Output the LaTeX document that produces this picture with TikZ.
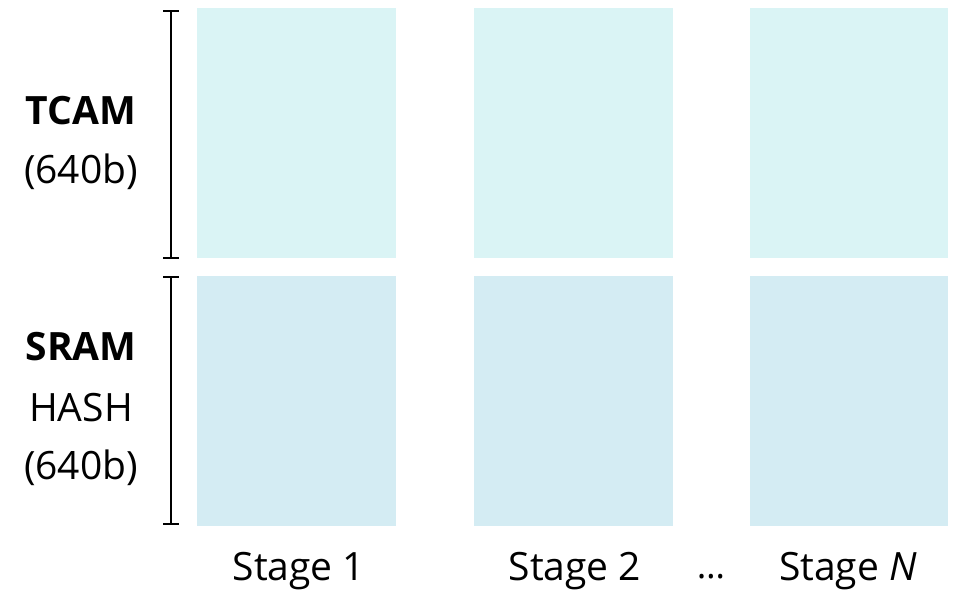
\documentclass[tikz,border=0pt]{standalone}
\usepackage{fontspec}
\setmainfont{Open Sans}
\begin{document}
\begin{tikzpicture}[x=1pt,y=-1pt,
  tcambox/.style={fill=tcamc, draw=none},
  srambox/.style={fill=sramc, draw=none},
  lbl/.style={font=\fontsize{39}{42}\selectfont, inner sep=0pt, anchor=center},
  brk/.style={line width=2.2pt, black}]
\definecolor{tcamc}{RGB}{218,244,245}
\definecolor{sramc}{RGB}{212,236,243}
\useasboundingbox (0,0) rectangle (956,596);
% boxes
\fill[tcambox] (197,8) rectangle (396,258);
\fill[tcambox] (474,8) rectangle (673,258);
\fill[tcambox] (750,8) rectangle (948,258);
\fill[srambox] (197,276) rectangle (396,526);
\fill[srambox] (474,276) rectangle (673,526);
\fill[srambox] (750,276) rectangle (948,526);
% brackets
\coordinate (t1) at (171,11);
\coordinate (t2) at (171,258);
\coordinate (s1) at (171,277);
\coordinate (s2) at (171,524);
\draw[brk] (t1) -- (t2);
\draw[brk] ([xshift=-8]t1) -- ([xshift=8]t1);
\draw[brk] ([xshift=-8]t2) -- ([xshift=8]t2);
\draw[brk] (s1) -- (s2);
\draw[brk] ([xshift=-8]s1) -- ([xshift=8]s1);
\draw[brk] ([xshift=-8]s2) -- ([xshift=8]s2);
% labels
\node[lbl] (tcam) at (81,111) {\textbf{TCAM}};
\node[lbl] (tb) at (81,172) {(640b)};
\node[lbl] (sram) at (81,347) {\textbf{SRAM}};
\node[lbl] (hash) at (81,408) {HASH};
\node[lbl] (sb) at (81,468) {(640b)};
\node[lbl] (st1) at (299,571) {Stage 1};
\node[lbl] (st2) at (575,571) {Stage 2};
\node[lbl, font=\fontsize{36}{38}\selectfont] (dots) at (711,577) {…};
\node[lbl] (stn) at (848,571) {Stage \textit{N}};
\end{tikzpicture}
\end{document}
